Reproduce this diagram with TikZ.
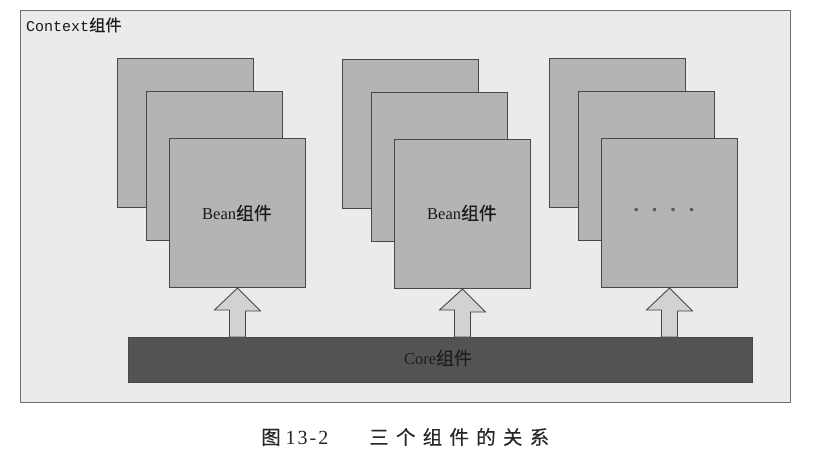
\documentclass[tikz,border=0pt]{standalone}
\usepackage{fontspec}
\setmainfont{Liberation Serif}
\setmonofont{Liberation Mono}
\newfontfamily\cjk[Scale=1.08,FakeBold=0.3]{Noto Sans CJK SC}
\newfontfamily\cjkcap[Scale=1.08,FakeBold=0.3]{Noto Sans CJK SC}
\newcommand\zh[1]{{\cjk #1}}
\newcommand\zc[1]{{\cjkcap #1}}
\usetikzlibrary{calc}
\definecolor{framebg}{HTML}{EBEBEB}
\definecolor{frameline}{HTML}{707070}
\definecolor{boxfill}{HTML}{B4B4B4}
\definecolor{boxline}{HTML}{474747}
\definecolor{corefill}{HTML}{535353}
\definecolor{coretext}{HTML}{1E1E1E}
\definecolor{arrfill}{HTML}{D2D2D2}
\tikzset{
  ctxframe/.style={draw=frameline, fill=framebg, line width=1pt, anchor=north west, inner sep=0pt, minimum width=770pt, minimum height=392pt},
  beanbox/.style={draw=boxline, fill=boxfill, line width=1pt, anchor=north west, inner sep=0pt, minimum width=136pt, minimum height=149pt},
  corebar/.style={draw=boxline, fill=corefill, line width=1pt, anchor=north west, inner sep=0pt, minimum width=624pt, minimum height=45pt},
  blockarrow/.style={draw=boxline, fill=arrfill, line width=0.9pt, line join=miter},
  lbl/.style={font=\fontsize{16.5}{18}\selectfont, inner sep=0pt, text=black!90}
}
\begin{document}
\begin{tikzpicture}[x=1pt,y=-1pt]
\useasboundingbox (0,0) rectangle (821,460);
\fill[white] (0,0) rectangle (821,460);
\node[ctxframe] (ctx) at (20,10) {};
\node[anchor=west, inner sep=0pt, font=\fontsize{15}{16}\ttfamily, text=black!90] (ctxlbl) at (26,25) {Context\zh{组件}};
% group 1
\node[beanbox] (a1) at (117,58) {};
\node[beanbox] (b1) at (146,91) {};
\node[beanbox] (c1) at (169,138) {};
% group 2
\node[beanbox] (a2) at (342,59) {};
\node[beanbox] (b2) at (371,92) {};
\node[beanbox] (c2) at (394,139) {};
% group 3
\node[beanbox] (a3) at (549,58) {};
\node[beanbox] (b3) at (578,91) {};
\node[beanbox] (c3) at (601,138) {};
\node[lbl] (t1) at (237,213) {Bean\zh{组件}};
\node[lbl] (t2) at (462,213) {Bean\zh{组件}};
\node[inner sep=0pt, font=\fontsize{22}{22}\selectfont\bfseries, text=black!65] (t3) at (664,210) {.\hspace{13pt}.\hspace{13pt}.\hspace{13pt}.};
% core bar
\node[corebar] (core) at (128,337) {};
\node[lbl, text=coretext] (coretxt) at (438,358) {Core\zh{组件}};
% block arrows
\foreach \c in {c1,c2,c3}{
  \draw[blockarrow] (\c.south) -- ++(23,23) -- ++(-15,0)
    -- ($(\c.south |- core.north)+(8,0)$) -- ($(\c.south |- core.north)+(-8,0)$)
    -- ++(0,-27) -- ++(-15,0) -- cycle;
}
% caption
\node[anchor=west, inner sep=0pt, font=\fontsize{18}{20}\selectfont, text=black!85] (cap) at (261,437)
  {\zc{图}\hspace{5pt}{\fontsize{20}{20}\selectfont 1\kern2pt3\kern2pt-\kern2pt2}\hspace{41pt}\zc{三}\hspace{7.3pt}\zc{个}\hspace{7.3pt}\zc{组}\hspace{7.3pt}\zc{件}\hspace{7.3pt}\zc{的}\hspace{7.3pt}\zc{关}\hspace{7.3pt}\zc{系}};
\end{tikzpicture}
\end{document}
